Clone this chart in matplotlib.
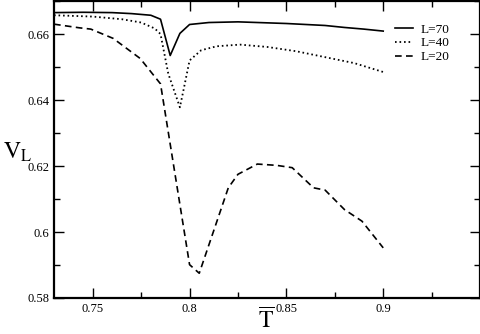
import matplotlib
matplotlib.use("Agg")
import matplotlib.pyplot as plt
from matplotlib.ticker import MultipleLocator

plt.rcParams['font.family'] = 'Liberation Serif'
plt.rcParams['mathtext.fontset'] = 'stix'

# L=70
t70 = [0.73, 0.745, 0.76, 0.77, 0.78, 0.785, 0.79, 0.795, 0.80, 0.81, 0.825, 0.85, 0.87, 0.88, 0.89, 0.90]
v70 = [0.6665, 0.6666, 0.6665, 0.6662, 0.6657, 0.6645, 0.6535, 0.6602, 0.6629, 0.6635, 0.6637, 0.6632, 0.6626, 0.6620, 0.6615, 0.6609]

# L=40
t40 = [0.73, 0.75, 0.765, 0.775, 0.782, 0.785, 0.789, 0.795, 0.797, 0.80, 0.806, 0.814, 0.826, 0.84, 0.855, 0.87, 0.885, 0.90]
v40 = [0.6657, 0.6653, 0.6645, 0.6635, 0.6617, 0.6600, 0.6480, 0.6378, 0.6434, 0.6520, 0.6551, 0.6563, 0.6568, 0.6561, 0.6548, 0.6530, 0.6512, 0.6485]

# L=20
t20 = [0.73, 0.743, 0.749, 0.7605, 0.7745, 0.785, 0.80, 0.805, 0.820, 0.825, 0.835, 0.845, 0.853, 0.864, 0.870, 0.880, 0.889, 0.90]
v20 = [0.6630, 0.6619, 0.6615, 0.6587, 0.6526, 0.6449, 0.5901, 0.5875, 0.6134, 0.6175, 0.6206, 0.6202, 0.6195, 0.6134, 0.6127, 0.6068, 0.6033, 0.5952]

fig = plt.figure(figsize=(4.81, 3.34), dpi=100)
ax = fig.add_axes([0.1123, 0.1078, 0.8857, 0.889])

ax.plot(t70, v70, color='black', lw=1.2, label='L=70')
ax.plot(t40, v40, color='black', lw=1.3, linestyle=(0, (0.9, 1.6)), label='L=40')
ax.plot(t20, v20, color='black', lw=1.2, linestyle=(0, (4.0, 2.6)), label='L=20')

ax.set_xlim(0.73, 0.95)
ax.set_ylim(0.58, 0.67)
ax.xaxis.set_minor_locator(MultipleLocator(0.025))
ax.yaxis.set_minor_locator(MultipleLocator(0.01))
ax.set_xticks([0.75, 0.8, 0.85, 0.9])
ax.set_xticklabels(['0.75', '0.8', '0.85', '0.9'])
ax.set_yticks([0.58, 0.6, 0.62, 0.64, 0.66])
ax.set_yticklabels(['0.58', '0.6', '0.62', '0.64', '0.66'])

ax.tick_params(which='both', direction='in', top=True, right=True, labelsize=9, width=1)
ax.tick_params(which='major', length=7)
ax.tick_params(which='minor', length=4)
for s in ax.spines.values():
    s.set_linewidth(1.6)

# axis titles placed like the original figure
fig.text(266 / 481, 0.002, r'$\overline{\mathrm{T}}$', fontsize=17, ha='center', va='bottom')
fig.text(3 / 481, 1 - 152 / 334, r'$\mathrm{V_L}$', fontsize=17, ha='left', va='center')

ax.legend(loc='upper left', bbox_to_anchor=(0.80, 0.925), frameon=False, fontsize=9.5,
          borderpad=0, borderaxespad=0, handlelength=1.35, handletextpad=0.6,
          labelspacing=0.12)

fig.savefig('out.png', dpi=100)
